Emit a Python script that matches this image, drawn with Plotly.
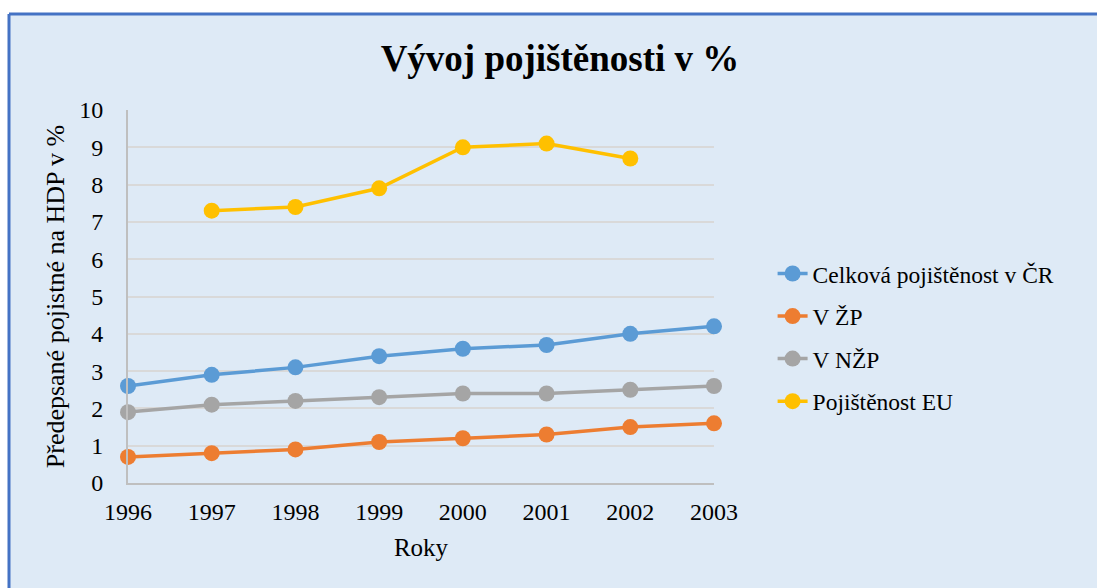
import plotly.graph_objects as go

roky = [1996, 1997, 1998, 1999, 2000, 2001, 2002, 2003]
celkova = [2.6, 2.9, 3.1, 3.4, 3.6, 3.7, 4.0, 4.2]
v_zp = [0.7, 0.8, 0.9, 1.1, 1.2, 1.3, 1.5, 1.6]
v_nzp = [1.9, 2.1, 2.2, 2.3, 2.4, 2.4, 2.5, 2.6]
eu_roky = [1997, 1998, 1999, 2000, 2001, 2002]
eu = [7.3, 7.4, 7.9, 9.0, 9.1, 8.7]

serif = "Liberation Serif, Times New Roman, serif"

fig = go.Figure()

# series: name, x, y, colour
serie = [
    ("Celková pojištěnost v ČR", roky, celkova, "#5B9BD5"),
    ("V ŽP", roky, v_zp, "#ED7D31"),
    ("V NŽP", roky, v_nzp, "#A5A5A5"),
    ("Pojištěnost EU", eu_roky, eu, "#FFC000"),
]
for i, (jmeno, x, y, barva) in enumerate(serie):
    fig.add_trace(go.Scatter(
        x=x, y=y, name=jmeno, mode="lines+markers",
        line=dict(color=barva, width=3.5),
        marker=dict(color=barva, size=16),
        cliponaxis=False, legendgroup=str(i),
    ))

# plot area sits at x 128..714, y 110..483 px
# light blue chart area, border only on left/top (rest runs off the page)
bx = -119 / 586
by = (483 - 14) / 373
fig.add_shape(type="rect", xref="paper", yref="paper",
              x0=bx, x1=1.7, y0=-0.5, y1=by,
              fillcolor="#DEEAF6", line=dict(width=0), layer="below")
fig.add_shape(type="line", xref="paper", yref="paper",
              x0=bx, x1=bx, y0=-0.5, y1=by,
              line=dict(color="#4472C4", width=3), layer="below")
fig.add_shape(type="line", xref="paper", yref="paper",
              x0=bx, x1=1.7, y0=by, y1=by,
              line=dict(color="#4472C4", width=3), layer="below")

fig.update_layout(
    width=1097, height=588,
    margin=dict(l=128, r=383, t=110, b=105),
    paper_bgcolor="white",
    plot_bgcolor="rgba(0,0,0,0)",
    font=dict(family=serif, color="black", size=24),
    title=dict(text="<b>Vývoj pojištěnosti v %</b>", font=dict(size=37, family=serif),
               x=560 / 1097, xanchor="center", y=1 - 58 / 588, yanchor="middle"),
    showlegend=True,
    legend=dict(x=1.1, y=0.62, xanchor="left", yanchor="top",
                font=dict(size=23.5), bgcolor="rgba(0,0,0,0)", tracegroupgap=9),
)

fig.update_xaxes(
    range=[1996, 2003], tickvals=roky, ticktext=[str(r) for r in roky],
    showgrid=False, zeroline=False, showline=True, linecolor="#BFBFBF", linewidth=2,
    ticks="outside", ticklen=6, tickcolor="rgba(0,0,0,0)",
    tickfont=dict(size=24),
    title=dict(text="Roky", font=dict(size=25), standoff=15),
)
fig.update_yaxes(
    range=[0, 10], dtick=1,
    showgrid=True, gridcolor="#D9D9D9", gridwidth=1.5,
    zeroline=False, showline=True, linecolor="#BFBFBF", linewidth=2,
    ticks="outside", ticklen=18, tickcolor="rgba(0,0,0,0)",
    tickfont=dict(size=24),
    title=dict(text="Předepsané pojistné na HDP v %", font=dict(size=26), standoff=7),
)

# drop the default 8px page margin so the figure fills the window
fig.write_html("out.html", config={"displayModeBar": False},
               post_script="document.body.style.margin='0';document.body.style.overflow='hidden';")
